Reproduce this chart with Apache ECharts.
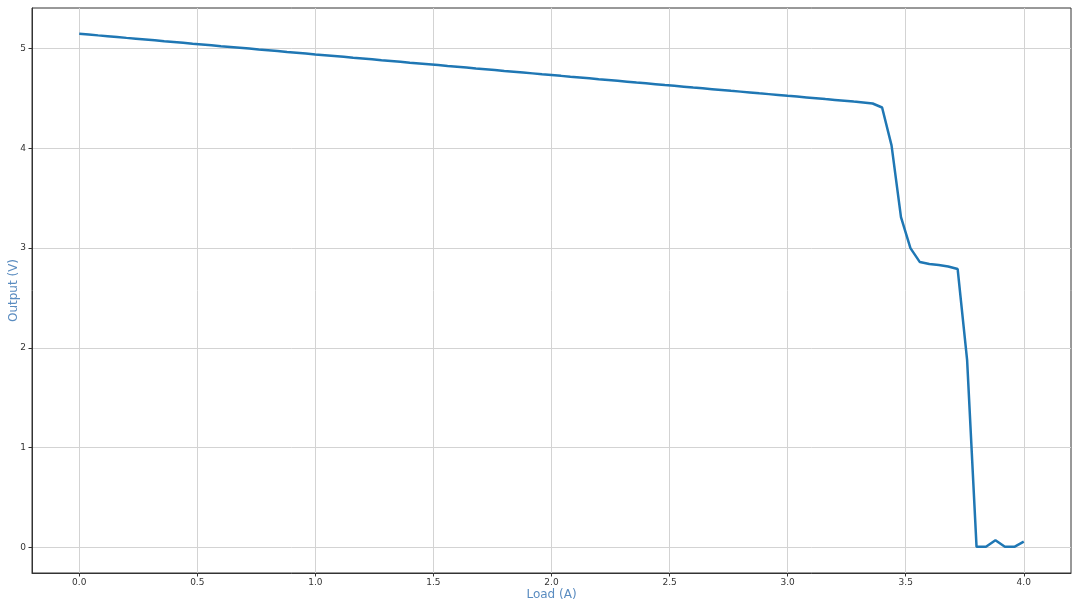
<!DOCTYPE html>
<html>
<head>
<meta charset="utf-8">
<script src="https://cdn.jsdelivr.net/npm/echarts@6/dist/echarts.min.js"></script>
<style>html,body{margin:0;padding:0;background:#fff;}#c{width:1080px;height:608px;}</style>
</head>
<body>
<div id="c"></div>
<script>
const loadA = [0.00,0.04,0.08,0.12,0.16,0.20,0.24,0.28,0.32,0.36,0.40,0.44,0.48,0.52,0.56,0.60,0.64,0.68,0.72,0.76,0.80,0.84,0.88,0.92,0.96,1.00,1.04,1.08,1.12,1.16,1.20,1.24,1.28,1.32,1.36,1.40,1.44,1.48,1.52,1.56,1.60,1.64,1.68,1.72,1.76,1.80,1.84,1.88,1.92,1.96,2.00,2.04,2.08,2.12,2.16,2.20,2.24,2.28,2.32,2.36,2.40,2.44,2.48,2.52,2.56,2.60,2.64,2.68,2.72,2.76,2.80,2.84,2.88,2.92,2.96,3.00,3.04,3.08,3.12,3.16,3.20,3.24,3.28,3.32,3.36,3.40,3.44,3.48,3.52,3.56,3.60,3.64,3.68,3.72,3.76,3.80,3.84,3.88,3.92,3.96,4.00];
const outputV = [5.150,5.142,5.133,5.125,5.117,5.108,5.100,5.092,5.084,5.075,5.067,5.059,5.050,5.042,5.034,5.025,5.017,5.009,5.001,4.992,4.984,4.976,4.967,4.959,4.951,4.942,4.934,4.926,4.918,4.909,4.901,4.893,4.884,4.876,4.868,4.859,4.851,4.843,4.835,4.826,4.818,4.810,4.801,4.793,4.785,4.776,4.768,4.760,4.752,4.743,4.735,4.727,4.718,4.710,4.702,4.693,4.685,4.677,4.669,4.660,4.652,4.644,4.635,4.627,4.619,4.610,4.602,4.594,4.586,4.577,4.569,4.561,4.552,4.544,4.536,4.527,4.519,4.511,4.503,4.494,4.486,4.478,4.469,4.461,4.450,4.410,4.030,3.310,3.000,2.860,2.840,2.830,2.815,2.790,1.880,0.005,0.005,0.070,0.005,0.005,0.057];
const xTicks = [0.0,0.5,1.0,1.5,2.0,2.5,3.0,3.5,4.0];
const yTicks = [0,1,2,3,4,5];
const xName = 'Load (A)';
const yName = 'Output (V)';

const chart = echarts.init(document.getElementById('c'), null, {renderer: 'canvas'});
const labelFont = {fontFamily: 'DejaVu Sans', fontSize: 9, color: '#333'};
chart.setOption({
  animation: false,
  backgroundColor: '#fff',
  grid: {left: 32, right: 9, top: 8, bottom: 35, show: true, borderColor: '#333', borderWidth: 1, containLabel: false, outerBoundsMode: 'none'},
  xAxis: {
    type: 'value', min: -0.2, max: 4.2,
    name: xName, nameLocation: 'middle', nameGap: 16, nameMoveOverlap: false,
    nameTextStyle: {color: '#5a8cc0', fontSize: 12, fontFamily: 'DejaVu Sans'},
    axisLine: {show: true, onZero: false, lineStyle: {color: '#333', width: 1}},
    axisTick: {show: true, length: 3.5, lineStyle: {color: '#333'}, customValues: xTicks},
    axisLabel: Object.assign({margin: 5, customValues: xTicks, formatter: v => v.toFixed(1)}, labelFont),
    splitLine: {show: true, lineStyle: {color: '#d3d3d3', width: 1}}
  },
  yAxis: {
    type: 'value', min: -0.2575, max: 5.4075,
    name: yName, nameLocation: 'middle', nameGap: 12, nameRotate: 90, nameMoveOverlap: false,
    nameTextStyle: {color: '#5a8cc0', fontSize: 12, fontFamily: 'DejaVu Sans'},
    axisLine: {show: true, onZero: false, lineStyle: {color: '#333', width: 1}},
    axisTick: {show: true, length: 3.5, lineStyle: {color: '#333'}, customValues: yTicks},
    axisLabel: Object.assign({margin: 6, customValues: yTicks, formatter: v => String(v)}, labelFont),
    splitLine: {show: true, lineStyle: {color: '#d3d3d3', width: 1}}
  },
  series: [{
    type: 'line',
    data: loadA.map((x, i) => [x, outputV[i]]),
    showSymbol: false,
    symbol: 'none',
    lineStyle: {color: '#1f77b4', width: 2.5},
    z: 3
  }]
});
</script>
</body>
</html>
